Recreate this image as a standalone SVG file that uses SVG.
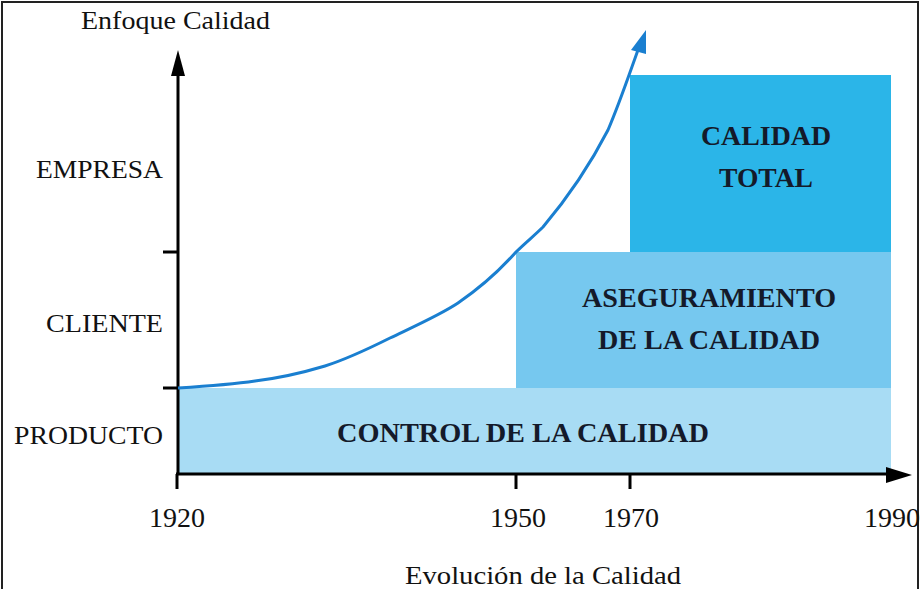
<svg xmlns="http://www.w3.org/2000/svg" width="923" height="589" viewBox="0 0 923 589">
<style>
.lbl{font-family:"Liberation Serif","Times New Roman",serif;font-size:26px;fill:#111;}
.big{font-family:"Liberation Serif","Times New Roman",serif;font-size:27px;font-weight:bold;fill:#141a2a;text-anchor:middle;}
.yr{text-anchor:middle;font-size:28px;}
.axis{stroke:#000;stroke-width:3;fill:none;}
</style>
<rect x="0" y="0" width="923" height="589" fill="#fff"/>
<rect x="2" y="2" width="916" height="600" fill="none" stroke="#222" stroke-width="2"/>

<g id="control">
<rect x="178" y="388" width="713" height="86" fill="#a8dcf4"/>
<text class="big" x="523" y="442" textLength="372" lengthAdjust="spacingAndGlyphs">CONTROL DE LA CALIDAD</text>
</g>
<g id="aseguramiento">
<rect x="516" y="252" width="375" height="136" fill="#76c8ef"/>
<text class="big" x="709" y="307" textLength="254" lengthAdjust="spacingAndGlyphs">ASEGURAMIENTO</text>
<text class="big" x="709" y="349" textLength="222" lengthAdjust="spacingAndGlyphs">DE LA CALIDAD</text>
</g>
<g id="total">
<rect x="630" y="75" width="261" height="177" fill="#2bb5e8"/>
<text class="big" x="766" y="145" textLength="130" lengthAdjust="spacingAndGlyphs">CALIDAD</text>
<text class="big" x="766" y="187" textLength="94" lengthAdjust="spacingAndGlyphs">TOTAL</text>
</g>

<g id="connectors">
<line class="axis" x1="178" y1="474" x2="178" y2="73"/>
<path d="M178,50 L171,76 L185,76 z" fill="#000"/>
<line class="axis" x1="176" y1="474" x2="888" y2="474"/>
<path d="M912,475 L886,467 L886,483 z" fill="#000"/>
<line class="axis" x1="163" y1="252" x2="178" y2="252"/>
<line class="axis" x1="163" y1="388" x2="178" y2="388"/>
<line class="axis" x1="177" y1="474" x2="177" y2="489"/>
<line class="axis" x1="516" y1="474" x2="516" y2="489"/>
<line class="axis" x1="630" y1="474" x2="630" y2="489"/>
<path d="M178,388 C210,386 235,384 255,381 C280,378 305,372 325,366 C350,358 370,348 390,338 C415,326 440,315 458,303 C480,288 500,270 516,252 C525,243 535,235 543,227 C570,195 590,165 608,130 C620,102 630,72 638,50" fill="none" stroke="#1a7fd0" stroke-width="3"/>
<path d="M646,30 L631,50 L646,54 z" fill="#1a7fd0"/>
</g>

<g id="labels">
<text class="lbl" x="81" y="29" textLength="189" lengthAdjust="spacingAndGlyphs">Enfoque Calidad</text>
<text class="lbl" x="36" y="178" textLength="127" lengthAdjust="spacingAndGlyphs">EMPRESA</text>
<text class="lbl" x="46" y="332" textLength="117" lengthAdjust="spacingAndGlyphs">CLIENTE</text>
<text class="lbl" x="14" y="444" textLength="149" lengthAdjust="spacingAndGlyphs">PRODUCTO</text>
<text class="lbl yr" x="177" y="527">1920</text>
<text class="lbl yr" x="518" y="527">1950</text>
<text class="lbl yr" x="631" y="527">1970</text>
<text class="lbl yr" x="892" y="527">1990</text>
<text class="lbl" x="405" y="584" textLength="276" lengthAdjust="spacingAndGlyphs">Evolución de la Calidad</text>
</g>
</svg>
